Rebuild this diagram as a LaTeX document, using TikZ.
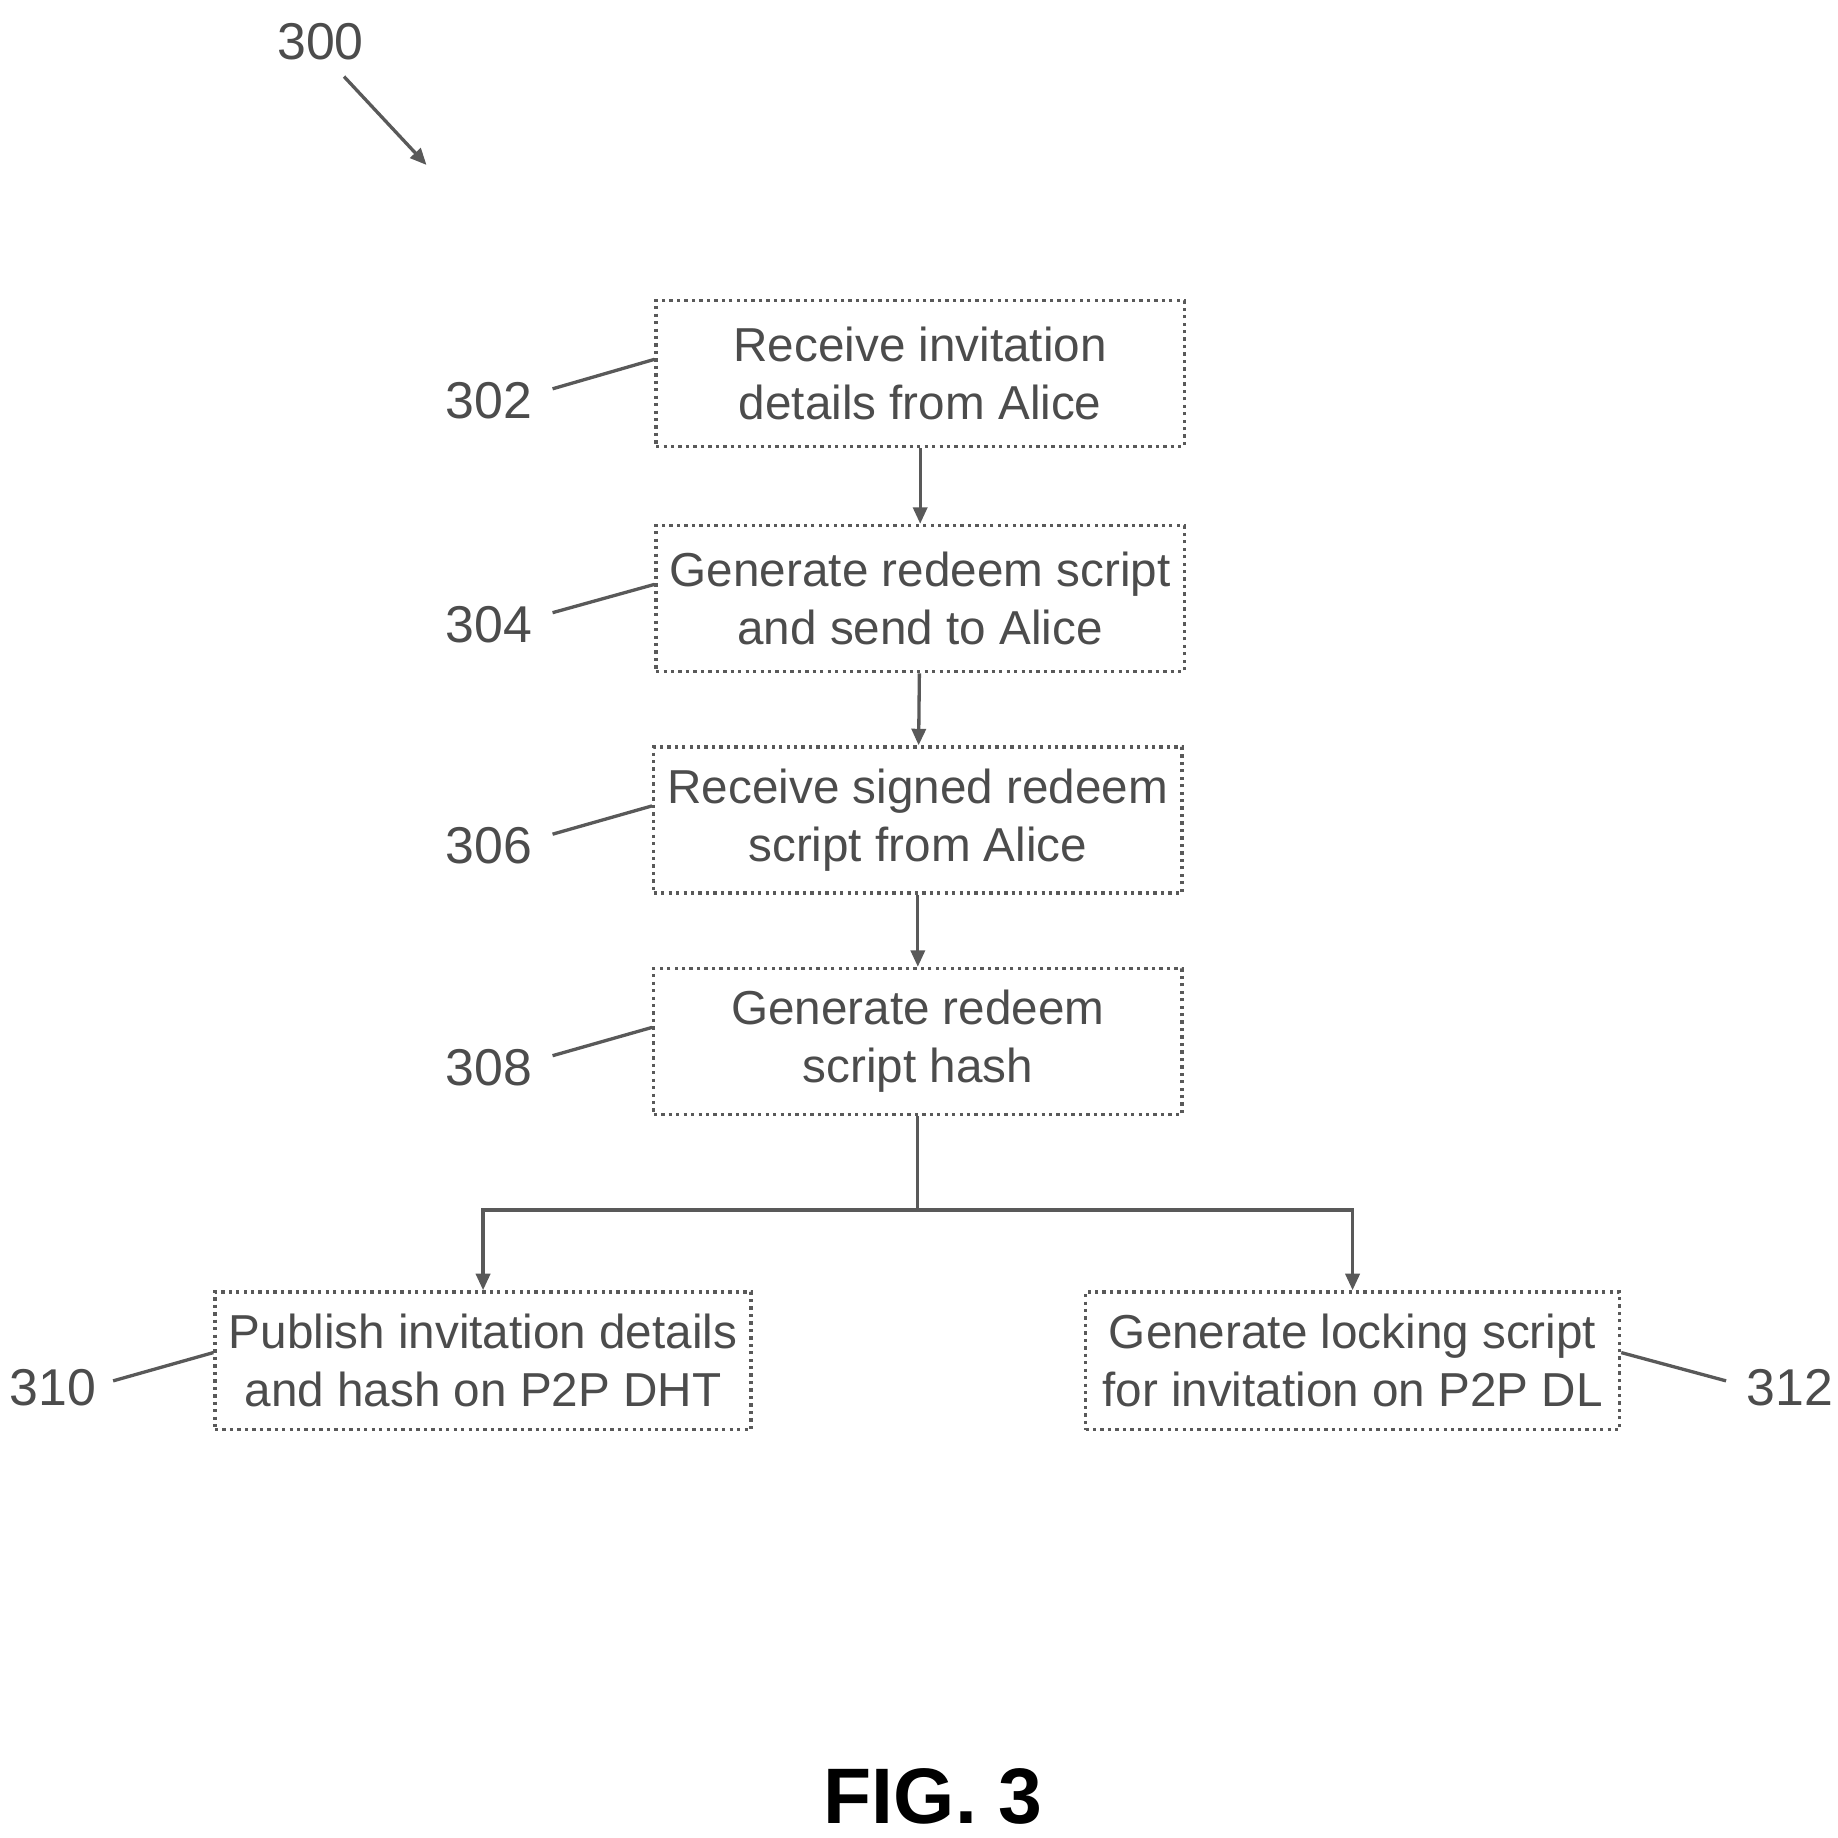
\documentclass[tikz,border=0pt]{standalone}
\usepackage{fontspec}
\setmainfont{Liberation Sans}
\usetikzlibrary{arrows.meta}
\tikzset{
    line/.style={
        thick, gray!70!black
    },
    stage/.style={
        line, draw, densely dotted, minimum width=4.48cm, minimum height=1.24cm,
        align=center, font=\fontsize{11.5}{14}\selectfont, text=gray!60!black
    },
    arrow/.style={
        line,
        ->,
        > = {
            Triangle[length=1.4mm, width=1.2mm]
        }
    },
    ref/.style={
        font=\fontsize{12.5}{15}\selectfont, text=gray!60!black
    }
}

\begin{document}
\begin{tikzpicture}[x=0.01cm, y=-0.01cm]
    \useasboundingbox (0, 0) rectangle (1560, 1560);
    % Steps:
    \node [stage] (s302) at (781, 317) {Receive invitation\\details from Alice};
    \node [stage] (s304) at (781, 508) {Generate redeem script\\and send to Alice};
    \node [stage] (s306) at (779, 696) {Receive signed redeem\\script from Alice};
    \node [stage] (s308) at (779, 884) {Generate redeem\\script hash};
    \node [stage, minimum height=1.17cm] (s310) at (410, 1155) {Publish invitation details\\and hash on P2P DHT};
    \node [stage, minimum width=4.53cm, minimum height=1.17cm] (s312) at (1148, 1155) {Generate locking script\\for invitation on P2P DL};
    % Connectors:
    \draw [arrow] (s302) -- (s304);
    \draw [arrow] (s304) -- (s306);
    \draw [arrow] (s306) -- (s308);
    \coordinate (split) at (779, 1027);
    \draw [line] (s308.south) -- (split);
    \draw [arrow] (split) -| (s310.north);
    \draw [arrow] (split) -| (s312.north);
    % Reference numerals:
    \node [ref] (n300) at (272, 35) {300};
    \coordinate (p300) at (362, 140);
    \draw [arrow] (292, 65) -- (p300);
    \node [ref, anchor=east] (n302) at (464, 340) {302};
    \node [ref, anchor=east] (n304) at (464, 530) {304};
    \node [ref, anchor=east] (n306) at (464, 718) {306};
    \node [ref, anchor=east] (n308) at (464, 906) {308};
    \node [ref, anchor=east] (n310) at (94, 1178) {310};
    \node [ref, anchor=west] (n312) at (1470, 1178) {312};
    \foreach \n in {302, 304, 306, 308} {
        \draw [line] (n\n.east) ++(5, -10) -- ([yshift=0.12cm]s\n.west);
    }
    \draw [line] (n310.east) ++(2, -6) -- ([yshift=0.07cm]s310.west);
    \draw [line] (n312.west) ++(-5, -6) -- ([yshift=0.07cm]s312.east);
    % Title:
    \node [font=\bfseries\fontsize{19}{22}\selectfont] (fig) at (792, 1525) {FIG. 3};
\end{tikzpicture}
\end{document}
